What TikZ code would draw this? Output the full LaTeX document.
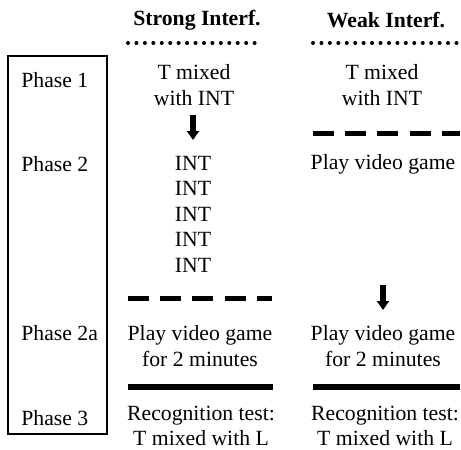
\documentclass[tikz,border=0pt]{standalone}
\usepackage{fontspec}
\setmainfont{Liberation Serif}
\usepackage{tikz}
\usetikzlibrary{arrows.meta,positioning}

\begin{document}
\begin{tikzpicture}[
    x=0.5pt, y=-0.5pt,
    txt/.style={align=center, inner sep=0pt, font=\fontsize{10.85}{12.8}\selectfont},
    head/.style={txt, font=\fontsize{10.85}{12.8}\selectfont\bfseries},
    phase/.style={txt, anchor=west},
    dotline/.style={line width=2pt, line cap=round, dash pattern=on 0pt off 4.22pt},
    dashline/.style={line width=2.5pt, dash pattern=on 10.5pt off 5.6pt},
    solidline/.style={line width=2.7pt},
    frame/.style={line width=0.9pt},
    arrow/.style={-{Triangle[width=6pt,length=4.5pt]}, line width=2.8pt}
  ]
    \useasboundingbox (0,0) rectangle (461,450);
    % column heads
    \node[head] (strong) at (197,20) {Strong Interf.};
    \node[head] (weak) at (386,20) {Weak Interf.};
    \draw[dotline] (128,43) -- (263,43);
    \draw[dotline] (313,43) -- (458,43);
    % phase labels
    \draw[frame] (8,56) rectangle (107,434);
    \node[phase] (p1) at (21,80) {Phase 1};
    \node[phase] (p2) at (21,164) {Phase 2};
    \node[phase] (p2a) at (21,333) {Phase 2a};
    \node[phase] (p3) at (21,418) {Phase 3};
    % phase 1
    \node[txt] (mix1) at (194,85) {T mixed\\with INT};
    \node[txt] (mix2) at (382,85) {T mixed\\with INT};
    \coordinate (a1s) at (193,115);
    \coordinate (a1e) at (193,140);
    \draw[arrow] (a1s) -- (a1e);
    \draw[dashline] (313,133) -- (460,133);
    % phase 2
    \foreach \i in {1,...,5}
      \node[txt] (int\i) at (193,{138+25.4*\i}) {INT};
    \node[txt] (game2) at (383,164) {Play video game};
    \draw[dashline] (128,298) -- (272,298);
    \coordinate (a2s) at (383,285);
    \coordinate (a2e) at (383,310);
    \draw[arrow] (a2s) -- (a2e);
    % phase 2a
    \node[txt] (play1) at (200,346) {Play video game\\for 2 minutes};
    \node[txt] (play2) at (383,346) {Play video game\\for 2 minutes};
    \draw[solidline] (128,387) -- (273,387);
    \draw[solidline] (313,387) -- (460,387);
    % phase 3
    \node[txt] (test1) at (201,426) {Recognition test:\\T mixed with L};
    \node[txt] (test2) at (385,426) {Recognition test:\\T mixed with L};
  \end{tikzpicture}
\end{document}
